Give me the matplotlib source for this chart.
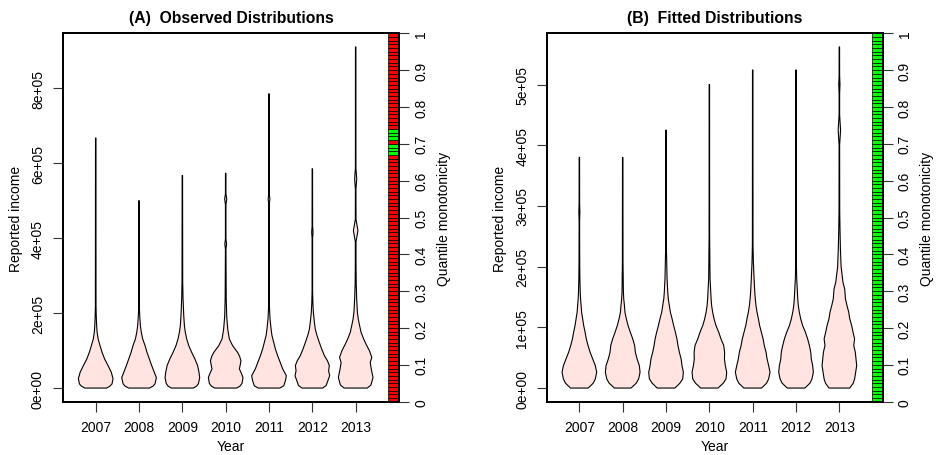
import numpy as np
import matplotlib
matplotlib.use("Agg")
import matplotlib.pyplot as plt
from matplotlib.patches import Polygon

plt.rcParams['font.family'] = ['Liberation Sans', 'DejaVu Sans']

years = [2007, 2008, 2009, 2010, 2011, 2012, 2013]

# Violin outlines: income levels (thousands) and half-width relative to each violin's widest point
obs_income = [
    [0, 5, 11, 25, 42, 60, 77, 95, 113, 131, 149, 170, 195, 220, 667],
    [0, 5, 11, 28, 42, 60, 77, 95, 113, 131, 149, 166, 193, 215, 500],
    [0, 5, 12, 28, 42, 60, 77, 95, 113, 131, 149, 166, 193, 238, 282, 567],
    [0, 5, 12, 28, 40, 51, 62, 73, 85, 95, 113, 131, 157, 190, 240, 370, 384, 398, 490, 504, 518, 573],
    [0, 6, 20, 33, 51, 68, 86, 104, 122, 140, 157, 184, 211, 240, 490, 504, 518, 785],
    [0, 7, 20, 33, 46, 60, 73, 86, 104, 122, 140, 157, 175, 202, 229, 260, 400, 416, 432, 585],
    [0, 8, 28, 51, 68, 82, 100, 117, 131, 149, 166, 184, 202, 237, 280, 330, 390, 420, 450, 530, 558, 586, 910],
]
obs_width = [
    [0.63, 0.82, 0.94, 1.0, 0.9, 0.71, 0.52, 0.37, 0.25, 0.14, 0.08, 0.05, 0.03, 0.018, 0.012],
    [0.6, 0.8, 0.92, 1.0, 0.88, 0.73, 0.6, 0.46, 0.35, 0.21, 0.13, 0.08, 0.04, 0.02, 0.012],
    [0.63, 0.82, 0.93, 1.0, 0.96, 0.88, 0.73, 0.54, 0.37, 0.25, 0.17, 0.12, 0.08, 0.04, 0.02, 0.012],
    [0.63, 0.82, 0.94, 1.0, 0.9, 0.79, 0.84, 0.88, 0.8, 0.69, 0.4, 0.21, 0.12, 0.06, 0.03, 0.015, 0.05, 0.015, 0.015, 0.06, 0.015, 0.012],
    [0.62, 0.85, 0.95, 1.0, 0.79, 0.65, 0.5, 0.37, 0.27, 0.17, 0.12, 0.06, 0.03, 0.015, 0.015, 0.05, 0.015, 0.012],
    [0.6, 0.8, 0.9, 1.0, 0.94, 0.98, 0.87, 0.7, 0.54, 0.4, 0.27, 0.17, 0.12, 0.06, 0.03, 0.015, 0.015, 0.04, 0.015, 0.012],
    [0.67, 0.88, 1.0, 0.9, 0.84, 0.93, 0.79, 0.6, 0.46, 0.31, 0.23, 0.15, 0.1, 0.06, 0.03, 0.02, 0.02, 0.13, 0.02, 0.015, 0.06, 0.015, 0.012],
]

fit_income = [
    [0, 8, 15, 26, 37, 48, 59, 70, 81, 92, 103, 114, 125, 136, 147, 158, 180, 207, 250, 275, 290, 305, 380],
    [0, 8, 15, 26, 37, 48, 59, 70, 81, 92, 103, 114, 125, 136, 147, 158, 180, 207, 380],
    [0, 8, 15, 26, 37, 48, 59, 70, 81, 92, 103, 114, 125, 136, 147, 158, 180, 207, 235, 425],
    [0, 8, 15, 26, 37, 48, 59, 70, 81, 92, 103, 114, 125, 136, 147, 158, 180, 207, 250, 500],
    [0, 8, 15, 26, 37, 48, 59, 70, 81, 92, 103, 114, 125, 136, 147, 158, 180, 207, 235, 524],
    [0, 8, 15, 26, 37, 48, 59, 70, 81, 92, 103, 114, 125, 136, 147, 158, 180, 207, 524],
    [0, 8, 15, 37, 59, 70, 81, 92, 103, 114, 125, 136, 147, 163, 174, 200, 230, 256, 290, 400, 425, 450, 485, 500, 515, 562],
]
fit_width = [
    [0.51, 0.8, 0.92, 1.0, 0.92, 0.77, 0.62, 0.5, 0.4, 0.33, 0.25, 0.19, 0.13, 0.1, 0.07, 0.05, 0.03, 0.02, 0.015, 0.015, 0.03, 0.015, 0.012],
    [0.48, 0.78, 0.92, 1.0, 0.96, 0.83, 0.73, 0.69, 0.58, 0.44, 0.31, 0.21, 0.13, 0.1, 0.06, 0.04, 0.03, 0.018, 0.012],
    [0.51, 0.8, 0.96, 1.0, 0.92, 0.87, 0.77, 0.69, 0.63, 0.54, 0.44, 0.35, 0.25, 0.19, 0.13, 0.1, 0.06, 0.04, 0.018, 0.012],
    [0.5, 0.8, 0.96, 1.0, 0.92, 0.87, 0.88, 0.83, 0.67, 0.54, 0.38, 0.27, 0.19, 0.13, 0.1, 0.08, 0.04, 0.03, 0.015, 0.012],
    [0.51, 0.8, 0.92, 1.0, 0.92, 0.83, 0.77, 0.67, 0.6, 0.5, 0.4, 0.33, 0.25, 0.19, 0.15, 0.12, 0.08, 0.04, 0.018, 0.012],
    [0.51, 0.8, 0.92, 1.0, 0.96, 0.88, 0.85, 0.77, 0.67, 0.54, 0.38, 0.27, 0.19, 0.13, 0.1, 0.08, 0.04, 0.018, 0.012],
    [0.6, 0.8, 0.88, 1.0, 0.92, 0.83, 0.88, 0.79, 0.71, 0.6, 0.54, 0.44, 0.35, 0.31, 0.21, 0.1, 0.06, 0.04, 0.02, 0.015, 0.07, 0.015, 0.015, 0.035, 0.015, 0.012],
]

obs_ticks = [0, 200000, 400000, 600000, 800000]
obs_tick_labels = ["0e+00", "2e+05", "4e+05", "6e+05", "8e+05"]
fit_ticks = [0, 100000, 200000, 300000, 400000, 500000]
fit_tick_labels = ["0e+00", "1e+05", "2e+05", "3e+05", "4e+05", "5e+05"]
mono_ticks = [0, 0.1, 0.2, 0.3, 0.4, 0.5, 0.6, 0.7, 0.8, 0.9, 1]
mono_tick_labels = ["0", "0.1", "0.2", "0.3", "0.4", "0.5", "0.6", "0.7", "0.8", "0.9", "1"]

# Quantile grid of the monotonicity strip (percentiles 0..99) and which ones are monotone
n_quantiles = 100
obs_monotone = [67, 68, 69, 71, 72, 73]
fit_monotone = list(range(n_quantiles))

HALF = 0.4
STRIP_LEFT, STRIP_RIGHT = 7.75, 8.0
FS = 10


def draw_panel(ax, income, width, ticks, tick_labels, title, monotone, xleft):
    top = 0
    for i, (k, w) in enumerate(zip(income, width)):
        k = np.asarray(k, dtype=float) * 1000
        w = np.asarray(w, dtype=float) * HALF
        pos = i + 1
        xs = np.concatenate([pos + w, (pos - w)[::-1]])
        ys = np.concatenate([k, k[::-1]])
        ax.add_patch(Polygon(np.column_stack([xs, ys]), closed=True,
                             facecolor='mistyrose', edgecolor='black',
                             linewidth=0.8, joinstyle='round'))
        top = max(top, k.max())
    pad = 0.04 * top
    ax.set_ylim(-pad, top + pad)
    ax.set_xlim(xleft, STRIP_RIGHT)

    ax.set_xticks(range(1, len(years) + 1))
    ax.set_xticklabels([str(y) for y in years])
    ax.set_yticks(ticks)
    ax.set_yticklabels(tick_labels, rotation=90, va='center', ha='right')
    ax.tick_params(axis='both', length=7, width=0.8, labelsize=FS,
                   color='#333333')
    ax.tick_params(axis='x', pad=6)
    ax.tick_params(axis='y', pad=6)
    ax.set_xlabel("Year", fontsize=FS, labelpad=4)
    ax.set_ylabel("Reported income", fontsize=FS, labelpad=6)
    ax.set_title(title, fontsize=11.3, fontweight='bold', pad=8)
    for sp in ax.spines.values():
        sp.set_linewidth(1.4)

    ax2 = ax.twinx()
    ax2.set_ylim(0, 1)
    step = 1.0 / n_quantiles
    q = np.arange(n_quantiles) * step
    good = set(monotone)
    colors = ['#00ff00' if j in good else '#ff0000' for j in range(n_quantiles)]
    ax2.bar(np.full(n_quantiles, (STRIP_LEFT + STRIP_RIGHT) / 2), step, bottom=q,
            width=STRIP_RIGHT - STRIP_LEFT, color=colors, edgecolor='black',
            linewidth=0.5, align='center')
    ax2.set_yticks(mono_ticks)
    ax2.set_yticklabels(mono_tick_labels, rotation=90, va='center', ha='left')
    ax2.tick_params(axis='y', length=7, width=0.8, labelsize=FS, color='#333333', pad=4)
    ax2.set_ylabel("Quantile monotonicity", fontsize=FS, labelpad=6)
    for sp in ax2.spines.values():
        sp.set_linewidth(1.4)
    return ax2


fig = plt.figure(figsize=(9.4, 4.56), dpi=100)
ax_a = fig.add_axes([63 / 940, 1 - 402.7 / 456, 336 / 940, 368.4 / 456])
ax_b = fig.add_axes([547.3 / 940, 1 - 402.7 / 456, 335.4 / 940, 368.4 / 456])

draw_panel(ax_a, obs_income, obs_width, obs_ticks, obs_tick_labels,
           "(A)  Observed Distributions", obs_monotone, 0.245)
draw_panel(ax_b, fit_income, fit_width, fit_ticks, fit_tick_labels,
           "(B)  Fitted Distributions", fit_monotone, 0.26)

fig.savefig("out.png", dpi=100)
